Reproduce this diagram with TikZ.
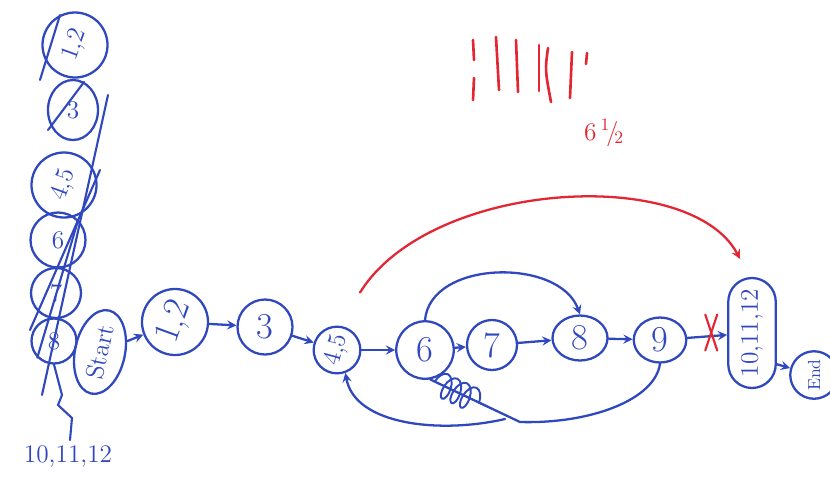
\documentclass[tikz,border=0pt]{standalone}
\usepackage{amsmath}
\usepackage{tikz}
\usetikzlibrary{positioning, arrows, fit, shapes.geometric, shapes.misc, calc, decorations.pathmorphing}
\definecolor{pen}{RGB}{48,72,190}
\definecolor{redpen}{RGB}{226,38,52}
\tikzset{
    cancel/.pic = {
    \draw[line width=1.2pt] (-#1,-3*#1) -- (#1,3*#1);
    \draw[line width=1.2pt] (#1,-3*#1) -- (-#1,3*#1);
    },
    task/.style={circle, draw=pen, text=pen, line width=1.3pt, inner sep=0pt, font=\huge},
    done/.style={task, font=\Large},
    every edge/.append style={pen, line width=1.3pt},
}

\begin{document}
\begin{tikzpicture}[x=0.02cm, y=-0.02cm, >=stealth, line cap=round]
    \useasboundingbox (0,0) rectangle (830,481);

    % the chain
    \node[task, ellipse, font=\Large, minimum width=1.7cm, minimum height=1cm, rotate=78] (start) at (100,352) {Start};
    \node[task, minimum size=1.32cm, rotate=70] (n12) at (175,322) {1,2};
    \node[task, minimum size=1.1cm] (n3) at (265,327) {3};
    \node[task, font=\Large, minimum size=0.9cm] (n45) at (337,350) {\rotatebox{75}{4,5}};
    \node[task, minimum size=1.15cm] (n6) at (425,350) {6};
    \node[task, minimum size=1cm] (n7) at (492,345) {7};
    \node[task, ellipse, minimum width=1.1cm, minimum height=0.9cm] (n8) at (580,338) {8};
    \node[task, ellipse, minimum width=1.05cm, minimum height=0.9cm] (n9) at (660,340) {9};
    \node[task, rounded rectangle, font=\Large, minimum width=2.2cm, minimum height=0.95cm, rotate=90] (n10) at (752,333) {10,11,12};
    \node[task, font=\normalsize, minimum size=0.95cm, rotate=90] (end) at (814,375) {End};

    \draw (start) edge[->] (n12);
    \draw (n12) edge[->] (n3);
    \draw (n3) edge[->] (n45);
    \draw (n45) edge[->] (n6);
    \draw (n6) edge[->] (n7);
    \draw (n7) edge[->] (n8);
    \draw (n8) edge[->] (n9);
    \draw (n9) edge[->] (n10);
    \draw (n10.south west) edge[->] (end);
    \pic[redpen] at ($(n9.east)!0.5!(n10.north)+(4,-4)$) {cancel=6};

    % jump over 7
    \draw (n6.north) edge[->, out=85, in=110] (n8.north);

    % way back, first to 6, then to 4,5
    \coordinate (c1) at (520,422);
    \coordinate (c2) at (505,419);
    \draw[pen, line width=1.3pt] (n9.south) .. controls (655,400) and (590,424) .. (c1) -- (n6.-80);
    \draw[pen, line width=1.1pt, decorate, decoration={coil, amplitude=7pt, segment length=6pt}]
        ($(n6.-80)!0.05!(c1)$) -- ($(n6.-80)!0.62!(c1)$);
    \draw[pen, line width=1.3pt, ->] (c2) .. controls (440,434) and (355,425) .. (n45.-70);

    % red arc
    \coordinate (hop) at ($(n45.north)+(23,-33)$);
    \coordinate (land) at ($(n10.east)+(-12,-18)$);
    \draw[redpen, line width=1.3pt, ->] (hop) .. controls (430,180) and (690,165) .. (land);

    % tally
    \begin{scope}[redpen, line width=1.5pt]
      \draw (473,40) -- (474,60);
      \draw (474,78) -- (473,100);
      \draw (496,37) -- (499,90);
      \draw (516,40) -- (518,92);
      \draw (539,45) -- (539,91);
      \draw (548,48) .. controls (545,70) .. (551,102);
      \draw (572,52) -- (570,98);
      \draw (587,53) -- (586,64);
    \end{scope}
    \node[text=redpen, font=\Large] (score) at (604,133) {6\,$^1\!/\!_2$};

    % the old stack
    \node[done, minimum size=1.3cm, rotate=70] (s12) at (75,45) {1,2};
    \node[done, ellipse, minimum width=1cm, minimum height=1.2cm] (s3) at (73,110) {3};
    \node[done, minimum size=1.3cm, rotate=70] (s45) at (64,185) {4,5};
    \node[done, minimum size=1.1cm] (s6) at (58,240) {6};
    \node[done, minimum size=1cm] (s7) at (56,293) {7};
    \node[done, minimum size=0.9cm] (s8) at (54,341) {8};
    \begin{scope}[pen, line width=1.2pt]
      \draw (40,80) -- (60,15);
      \draw (48,130) -- (84,82);
      \draw (108,95) -- (42,395);
      \draw (100,170) -- (30,330);
      \draw (s6.north east) -- (s8.south west);
      \draw (s8.south) -- (62,395) -- (58,405) -- (72,418) -- (70,440);
    \end{scope}
    \node[text=pen, font=\Large] (rest) at (68,457) {10,11,12};
\end{tikzpicture}
\end{document}
